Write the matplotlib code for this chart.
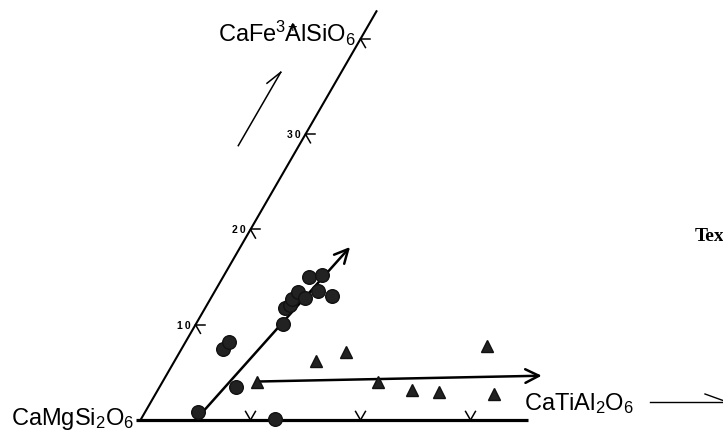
import numpy as np
import matplotlib
matplotlib.use("Agg")
import matplotlib.pyplot as plt
from matplotlib.patches import FancyArrowPatch

plt.rcParams["font.family"] = ["Liberation Sans", "DejaVu Sans"]
plt.rcParams["mathtext.fontset"] = "custom"
plt.rcParams["mathtext.rm"] = "Liberation Sans"
plt.rcParams["mathtext.it"] = "Liberation Sans"

# Compositions, mol % (CaTiAl2O6, CaFe3+AlSiO6); remainder CaMgSi2O6
circle_ti = [4.85, 6.96, 3.80, 3.96, 7.94, 7.27, 7.55, 7.40, 7.64, 8.56, 9.38, 7.86, 8.86, 10.89, 12.18]
circle_fe = [0.81, 3.43, 7.45, 8.22, 10.08, 11.73, 12.07, 12.70, 13.41, 12.78, 13.57, 14.98, 15.22, 12.99, 0.10]

triangle_ti = [8.55, 12.87, 15.13, 19.61, 23.12, 25.67, 27.66, 30.77]
triangle_fe = [4.02, 6.16, 7.11, 3.96, 3.18, 2.97, 7.74, 2.73]

# trend arrows (start, end) as (Ti, Fe)
circle_trend = [(5.15, 0.52), (9.97, 18.16)]
triangle_trend = [(8.66, 4.04), (34.15, 4.65)]

fe_ticks = [10, 20, 30, 40]
fe_tick_labels = ["1\u20090", "2\u20090", "3\u20090", ""]
ti_ticks = [10, 20, 30]

FE_AXIS_MAX = 43.0
TI_AXIS_MAX = 35.2

S60 = np.sqrt(3) / 2


def tern(ti, fe):
    ti = np.asarray(ti, dtype=float)
    fe = np.asarray(fe, dtype=float)
    return ti + 0.5 * fe, S60 * fe


W, H = 723, 431
fig = plt.figure(figsize=(W / 100, H / 100), dpi=100)
ax = fig.add_axes([0, 0, 1, 1])
scale = 11.0  # pixels per unit
ox, oy = 140.5, 421.0
ax.set_xlim(-ox / scale, (W - ox) / scale)
ax.set_ylim(-(H - oy) / scale, oy / scale)
ax.set_aspect("equal")
ax.axis("off")

# axes of the diagram
x, y = tern([0, 0], [0, FE_AXIS_MAX])
ax.plot(x, y, color="black", lw=1.5, solid_capstyle="butt")
x, y = tern([-0.4, TI_AXIS_MAX], [0, 0])
ax.plot(x, y, color="black", lw=2.3, solid_capstyle="butt")

# chevron ticks
arm = 0.9
for f, lab in zip(fe_ticks, fe_tick_labels):
    px, py = tern(0, f)
    for ang in (0, -60):
        a = np.deg2rad(ang)
        ax.plot([px, px + arm * np.cos(a)], [py, py + arm * np.sin(a)], color="black", lw=1.1)
    if lab:
        ax.text(px - 0.4, py, lab, ha="right", va="center", fontsize=7.5, fontweight="bold")
for t in ti_ticks:
    px, py = tern(t, 0)
    for ang in (60, 120):
        a = np.deg2rad(ang)
        ax.plot([px, px + arm * np.cos(a)], [py, py + arm * np.sin(a)], color="black", lw=1.1)

# trend arrows
for (t0, f0), (t1, f1) in (circle_trend, triangle_trend):
    x0, y0 = tern(t0, f0)
    x1, y1 = tern(t1, f1)
    ax.add_patch(FancyArrowPatch((x0, y0), (x1, y1), arrowstyle="->,head_length=0.7,head_width=0.35",
                                 mutation_scale=14, lw=1.8, color="black", shrinkA=0, shrinkB=0))

# data
x, y = tern(circle_ti, circle_fe)
ax.plot(x, y, "o", ms=9.8, color="#222222", mec="#111111", zorder=5)
x, y = tern(triangle_ti, triangle_fe)
ax.plot(x, y, "^", ms=8, color="#222222", mec="#111111", zorder=5)

# direction arrow parallel to Fe axis
x0, y0 = tern(-5.51, 28.8)
x1, y1 = tern(-5.50, 36.5)
ax.plot([x0, x1], [y0, y1], color="black", lw=1.1)
barb = np.deg2rad(218.5)
ax.plot([x1, x1 + 1.6 * np.cos(barb)], [y1, y1 + 1.6 * np.sin(barb)], color="black", lw=1.1)


def fx(px):
    return px / W


def fy(py):
    return 1 - py / H


lab_kw = dict(fontsize=17, color="black", transform=fig.transFigure)
fig.text(fx(11), fy(425), "CaMgSi$_\\mathregular{2}$O$_\\mathregular{6}$", ha="left", va="baseline", **lab_kw)
fig.text(fx(218), fy(42),
         "CaFe$^{\\mathregular{3+}}\\!\\!\\!\\!\\!$AlSiO$_\\mathregular{6}$",
         ha="left", va="baseline", **lab_kw)
fig.text(fx(524), fy(410), "CaTiAl$_\\mathregular{2}$O$_\\mathregular{6}$", ha="left", va="baseline", **lab_kw)
fig.text(fx(695), fy(241), "Text", ha="left", va="baseline", fontsize=14, fontweight="bold",
         family=["Liberation Serif", "DejaVu Serif"], transform=fig.transFigure)

# pointer after CaTiAl2O6
ax.plot([(650 - ox) / scale, (740 - ox) / scale], [(oy - 403) / scale] * 2, color="black", lw=1.0)
ax.plot([(705 - ox) / scale, (723 - ox) / scale], [(oy - 395) / scale, (oy - 401.5) / scale], color="black", lw=1.0)

fig.savefig("out.png", dpi=100)
